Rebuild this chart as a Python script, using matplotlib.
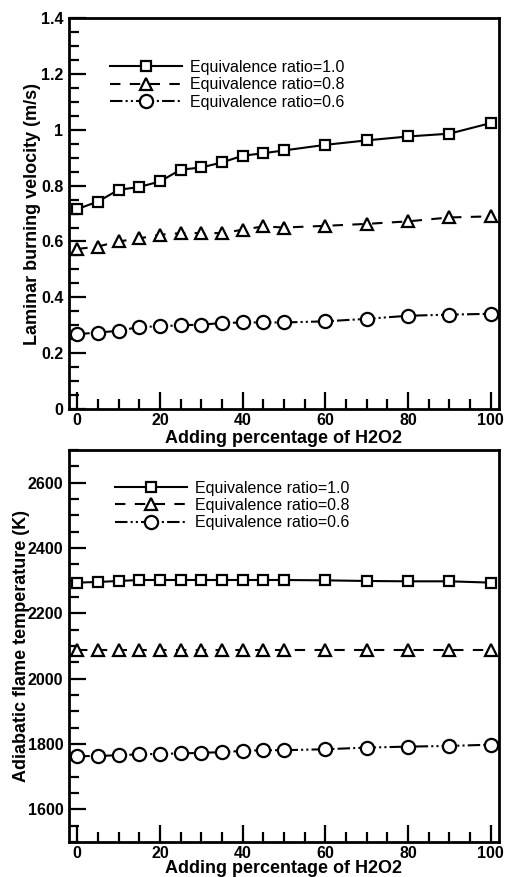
import numpy as np
import matplotlib.pyplot as plt
from matplotlib.ticker import MultipleLocator

plt.rcParams['font.family'] = 'sans-serif'
plt.rcParams['font.sans-serif'] = ['Liberation Sans', 'DejaVu Sans']
plt.rcParams['font.size'] = 10

# adding percentage of H2O2
x = [0, 5, 10, 15, 20, 25, 30, 35, 40, 45, 50, 60, 70, 80, 90, 100]

# laminar burning velocity (m/s)
sl_10 = [0.716, 0.743, 0.785, 0.795, 0.815, 0.857, 0.865, 0.883, 0.907, 0.916,
         0.926, 0.946, 0.962, 0.976, 0.986, 1.024]
sl_08 = [0.573, 0.582, 0.600, 0.611, 0.624, 0.630, 0.630, 0.630, 0.642, 0.654,
         0.650, 0.656, 0.663, 0.672, 0.686, 0.690]
sl_06 = [0.268, 0.274, 0.280, 0.294, 0.296, 0.300, 0.302, 0.308, 0.310, 0.310,
         0.310, 0.314, 0.323, 0.334, 0.338, 0.341]

# adiabatic flame temperature (K)
t_10 = [2294, 2296, 2299, 2302, 2302, 2302, 2302, 2302, 2302, 2302,
        2302, 2301, 2299, 2298, 2298, 2294]
t_08 = [2088, 2088, 2088, 2088, 2088, 2088, 2088, 2088, 2088, 2088,
        2088, 2088, 2088, 2088, 2088, 2088]
t_06 = [1763, 1763, 1766, 1768, 1770, 1771, 1773, 1775, 1779, 1781,
        1781, 1784, 1789, 1792, 1794, 1798]

labels = ['Equivalence ratio=1.0', 'Equivalence ratio=0.8', 'Equivalence ratio=0.6']
markers = ['s', '^', 'o']
msizes = [7.5, 8.5, 9.5]
dashes = [None, (5, 4.5), (6, 1.5, 1, 1.5, 1, 1.5)]


def draw(ax, series, ylim, major, minor, ylabel, fmt, leg_xy, ypad, xpad):
    for i, y in enumerate(series):
        line, = ax.plot(x, y, color='k', lw=1.5, marker=markers[i], ms=msizes[i],
                        mfc='white', mec='k', mew=1.6, label=labels[i])
        if dashes[i] is not None:
            line.set_dashes(dashes[i])
    ax.set_xlim(-2, 102)
    ax.set_ylim(*ylim)
    ax.xaxis.set_major_locator(MultipleLocator(20))
    ax.xaxis.set_minor_locator(MultipleLocator(5))
    ax.yaxis.set_major_locator(MultipleLocator(major))
    ax.yaxis.set_minor_locator(MultipleLocator(minor))
    ax.yaxis.set_major_formatter(fmt)
    ax.tick_params(which='both', direction='in', top=False, right=False, width=1.6)
    ax.tick_params(which='major', length=12, labelsize=11.5, pad=4)
    ax.tick_params(axis='x', which='major', pad=3)
    ax.tick_params(which='minor', length=7)
    for lab in ax.get_xticklabels() + ax.get_yticklabels():
        lab.set_fontweight('bold')
    for sp in ax.spines.values():
        sp.set_linewidth(2)
    ax.set_xlabel('Adding percentage of H2O2', fontsize=13, fontweight='bold', labelpad=xpad)
    ax.set_ylabel(ylabel, fontsize=13, fontweight='bold', labelpad=ypad)
    ax.legend(loc='upper left', bbox_to_anchor=leg_xy, frameon=False,
              handlelength=4.5, handletextpad=0.5, labelspacing=0.15, fontsize=11.5,
              borderaxespad=0, borderpad=0)


def fmt_top(v, pos):
    s = '%.1f' % v
    if s.endswith('.0'):
        s = s[:-2]
    return s


fig = plt.figure(figsize=(5.05, 8.77), dpi=100)
ax1 = fig.add_axes([0.1366, 0.5336, 0.8515, 0.4458])
ax2 = fig.add_axes([0.1366, 0.0399, 0.8515, 0.447])

draw(ax1, [sl_10, sl_08, sl_06], (0, 1.4), 0.2, 0.05,
     'Laminar burning velocity (m/s)', plt.FuncFormatter(fmt_top), (0.095, 0.893), 0, 1)
draw(ax2, [t_10, t_08, t_06], (1500, 2700), 200, 50,
     'Adiabatic flame temperature (K)', plt.FuncFormatter(lambda v, p: '%d' % v),
     (0.107, 0.922), -2, -0.5)

plt.savefig('out.png', dpi=100)
